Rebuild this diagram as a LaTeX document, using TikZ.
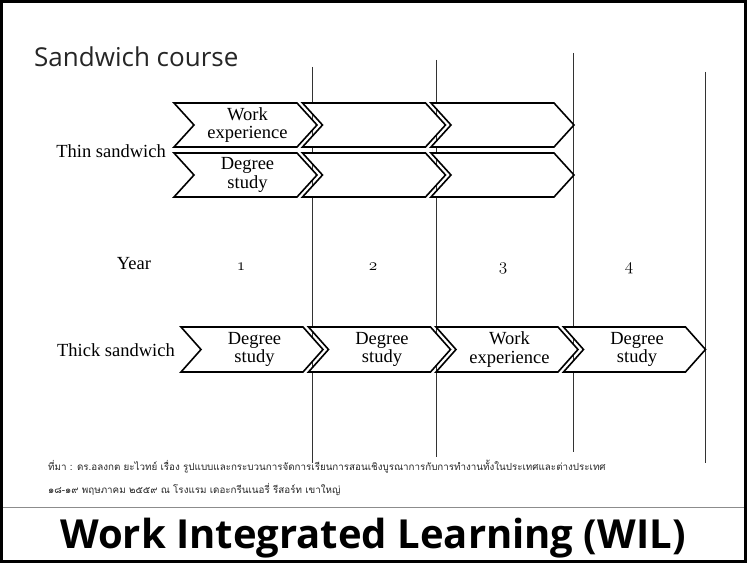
\documentclass[tikz,border=0pt]{standalone}
\usepackage{fontspec}
\setmainfont{Liberation Serif}
\newfontfamily\thaifont[Script=Thai]{Loma}
\newfontfamily\osans{Open Sans}
\newcommand\mychev[4]{% x0, ytop, width, height
  \draw[chevbox] (#1,#2) -- ++(#3-20,0) -- ++(20,#4/2) -- ++(-20,#4/2)
    -- ++(-#3+20,0) -- ++(20,-#4/2) -- cycle;}
\begin{document}
\begin{tikzpicture}[x=1bp,y=-1bp,
  framebox/.style={line width=2.5bp},
  sepline/.style={draw=black!45, line width=0.9bp},
  vline/.style={draw=black!80, line width=0.8bp},
  chevbox/.style={draw=black, line width=1.6bp, fill=white, line join=miter},
  lbl/.style={font=\fontsize{18.5bp}{18.5bp}\selectfont, align=center, inner sep=0pt},
  thai/.style={font=\thaifont\fontsize{9.8bp}{12bp}\selectfont, anchor=base west, inner sep=0pt, text=black!85}]
\useasboundingbox (0,0) rectangle (747,563);
\fill[white] (0,0) rectangle (747,563);
% frame and separator
\draw[framebox] (1.5,1.5) rectangle (745.5,561.5);
\draw[sepline] (3,507.5) -- (744,507.5);
% title
\node[anchor=base west, font=\osans\fontsize{26bp}{30bp}\selectfont, inner sep=0pt, text=black!85] (title) at (34,67) {Sandwich course};
% vertical year lines
\draw[vline] (312,67) -- (312,463);
\draw[vline] (436,60) -- (436,457);
\draw[vline] (573,53) -- (573,452);
\draw[vline] (705,72) -- (705,463);
% thin sandwich chevrons
\mychev{174}{103}{143}{44}
\mychev{302.5}{103}{143}{44}
\mychev{431}{103}{143}{44}
\mychev{174}{153}{143}{44}
\mychev{302.5}{153}{143}{44}
\mychev{431}{153}{143}{44}
% thick sandwich chevrons
\mychev{181}{327}{142}{45}
\mychev{308.5}{327}{142}{45}
\mychev{436}{327}{142}{45}
\mychev{563.5}{327}{142}{45}
% labels
\node[lbl] (tw) at (247.5,125) {Work\\experience};
\node[lbl] (td) at (247.5,175) {Degree\\study};
\node[lbl, anchor=east] (thin) at (166,151) {Thin sandwich};
\node[lbl] (year) at (134,264) {Year};
\node[lbl] (y1) at (241,267) {$\mathnormal{1}$};
\node[lbl] (y2) at (373,267) {$\mathnormal{2}$};
\node[lbl] (y3) at (503,268) {$\mathnormal{3}$};
\node[lbl] (y4) at (629,268) {$\mathnormal{4}$};
\node[lbl, anchor=east] (thick) at (175,350) {Thick sandwich};
\node[lbl] (k1) at (254.5,349.5) {Degree\\study};
\node[lbl] (k2) at (382,349.5) {Degree\\study};
\node[lbl] (k3) at (509.5,349.5) {Work\\experience};
\node[lbl] (k4) at (637,349.5) {Degree\\study};
% source note
\node[thai] (src1) at (48,470) {ที่มา : ดร.อลงกต ยะไวทย์ เรื่อง รูปแบบและกระบวนการจัดการเรียนการสอนเชิงบูรณาการกับการทำงานทั้งในประเทศและต่างประเทศ};
\node[thai] (src2) at (48,493) {๑๘-๑๙ พฤษภาคม ๒๕๕๙ ณ โรงแรม เดอะกรีนเนอรี่ รีสอร์ท เขาใหญ่};
% bottom title
\node[anchor=base, font=\osans\bfseries\fontsize{40bp}{46bp}\selectfont, inner sep=0pt] (wil) at (373,548) {Work Integrated Learning (WIL)};
\end{tikzpicture}
\end{document}
